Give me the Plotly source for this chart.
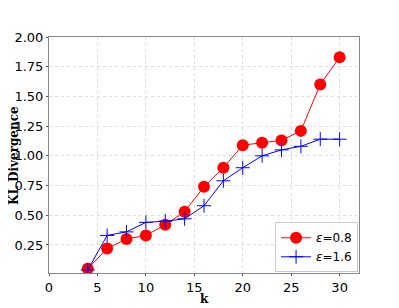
import plotly.graph_objects as go

k = [4, 6, 8, 10, 12, 14, 16, 18, 20, 22, 24, 26, 28, 30]
kl_eps08 = [0.05, 0.22, 0.30, 0.33, 0.42, 0.53, 0.74, 0.90, 1.09, 1.11, 1.13, 1.21, 1.60, 1.83]
kl_eps16 = [0.04, 0.33, 0.36, 0.44, 0.45, 0.47, 0.58, 0.79, 0.90, 1.00, 1.05, 1.08, 1.14, 1.14]
x_ticks = [0, 5, 10, 15, 20, 25, 30]
y_ticks = [0.25, 0.50, 0.75, 1.00, 1.25, 1.50, 1.75, 2.00]

fig = go.Figure()

fig.add_trace(go.Scatter(x=k, y=kl_eps08,
                         mode='lines+markers',
                         name='<i>ε</i>=0.8',
                         line=dict(color='red', width=1),
                         marker=dict(color='red', size=12, symbol='circle')))

fig.add_trace(go.Scatter(x=k, y=kl_eps16,
                         mode='lines+markers',
                         name='<i>ε</i>=1.6',
                         line=dict(color='blue', width=1),
                         marker=dict(color='blue', size=10, symbol='cross-thin',
                                     line=dict(color='blue', width=1))))

axis_common = dict(
    showline=True, linecolor='#888888', linewidth=1, mirror=True,
    showgrid=True, gridcolor='#dddddd', griddash='dot', gridwidth=1,
    ticks='outside', ticklen=2, tickcolor='#555555',
    tickfont=dict(family='DejaVu Sans', size=13, color='black'),
    zeroline=False, automargin=False,
)

# page body has an 8px margin, so margins are shifted by 8px
fig.update_layout(
    width=399, height=308,
    margin=dict(l=41, r=48, t=29, b=43),
    paper_bgcolor='white', plot_bgcolor='white',
    showlegend=True,
    legend=dict(
        x=0.997, y=0.003, xanchor='right', yanchor='bottom',
        bordercolor='#cccccc', borderwidth=1, bgcolor='rgba(255,255,255,0.9)',
        font=dict(family='DejaVu Sans', size=12, color='black'),
        tracegroupgap=0, itemwidth=30,
    ),
    xaxis=dict(axis_common, range=[0, 32], tickvals=x_ticks),
    yaxis=dict(axis_common, range=[0.014, 2.0], tickvals=y_ticks, tickformat='.2f'),
    annotations=[
        dict(text='<b>k</b>', xref='paper', yref='paper', x=0.5, y=-0.112,
             xanchor='center', yanchor='middle', showarrow=False,
             font=dict(family='DejaVu Serif', size=12, color='black')),
        dict(text='<b>KL Divergence</b>', xref='paper', yref='paper', x=-0.113, y=0.5,
             xanchor='center', yanchor='middle', showarrow=False, textangle=-90,
             font=dict(family='DejaVu Serif', size=12, color='black')),
    ],
)

fig.write_html('out.html')
